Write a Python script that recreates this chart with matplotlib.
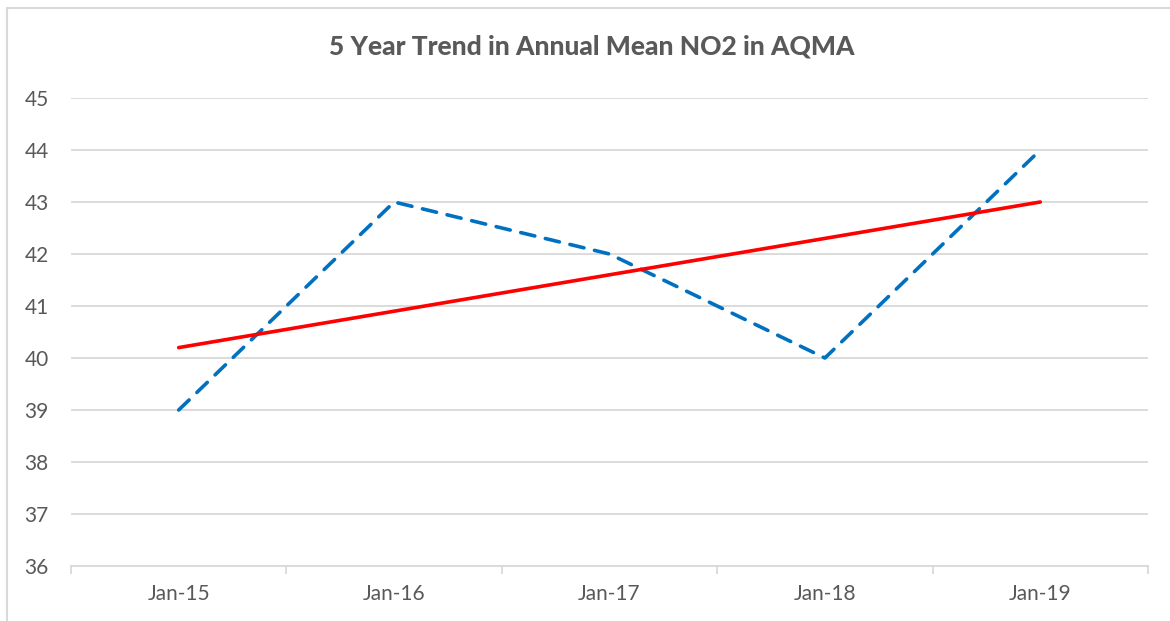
import matplotlib
matplotlib.use('Agg')
import matplotlib.pyplot as plt
from matplotlib.patches import Rectangle

# data
years = ['Jan-15', 'Jan-16', 'Jan-17', 'Jan-18', 'Jan-19']
no2_mean = [39, 43, 42, 40, 44]
trend = [40.2, 40.9, 41.6, 42.3, 43.0]
y_ticks = [36, 37, 38, 39, 40, 41, 42, 43, 44, 45]

plt.rcParams['font.family'] = ['Lato', 'DejaVu Sans']

fig = plt.figure(figsize=(11.7, 6.21), dpi=100)
# chart border (cropped at right/bottom in the reference)
fig.patches.append(Rectangle((7 / 1170, -0.1), 1.2, 1.1 - 8 / 621,
                             transform=fig.transFigure, fill=False,
                             edgecolor='#d9d9d9', linewidth=1.5))

ax = fig.add_axes([71 / 1170, 1 - 566 / 621, (1148 - 71) / 1170, (566 - 98) / 621])
x = list(range(len(years)))

ax.plot(x, no2_mean, color='#0070c0', linewidth=2.6, linestyle=(0, (4, 3)),
        dash_capstyle='round', zorder=3)
ax.plot(x, trend, color='#ff0000', linewidth=2.6, solid_capstyle='round', zorder=4)

ax.set_xlim(-0.5, len(years) - 0.5)
ax.set_ylim(36, 45)
ax.set_yticks(y_ticks)
ax.set_xticks(x)
ax.set_xticklabels(years)
ax.grid(axis='y', color='#d9d9d9', linewidth=1.3)
ax.set_axisbelow(True)
for s in ['top', 'right', 'left']:
    ax.spines[s].set_visible(False)
ax.spines['bottom'].set_color('#d9d9d9')
ax.spines['bottom'].set_linewidth(1.3)
ax.set_xticks([-0.5 + i for i in range(len(years) + 1)], minor=True)
ax.tick_params(axis='x', which='minor', length=6, color='#d9d9d9', width=1.3)
ax.tick_params(axis='x', which='major', length=0, pad=13, labelsize=15, labelcolor='#595959')
ax.tick_params(axis='y', length=0, pad=16, labelsize=15, labelcolor='#595959')

fig.text(592 / 1170, 1 - 47 / 621, '5 Year Trend in Annual Mean NO2 in AQMA',
         ha='center', va='center', fontsize=19, fontweight='black', color='#595959')

fig.savefig('out.png', dpi=100)
